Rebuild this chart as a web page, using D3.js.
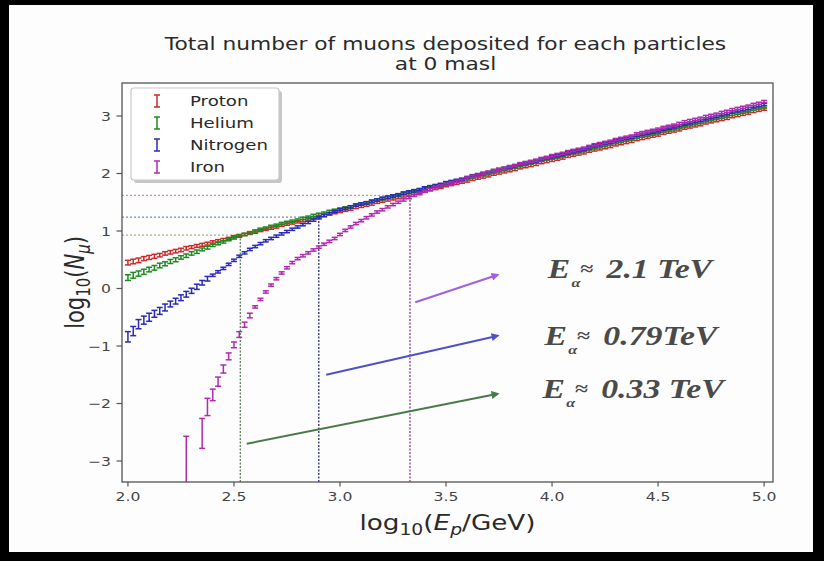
<!DOCTYPE html>
<html>
<head>
<meta charset="utf-8">
<script src="https://cdn.jsdelivr.net/npm/d3@7"></script>
<style>
  body { margin: 0; background: #000; }
  svg { display: block; }
</style>
</head>
<body>
<svg id="chart" width="824" height="561"></svg>
<script>
// log10(E/GeV) grid of the simulated primaries
const energies = [
  2.000,2.025,2.050,2.075,2.100,2.125,2.150,2.175,
  2.200,2.225,2.250,2.275,2.300,2.325,2.350,2.375,
  2.400,2.425,2.450,2.475,2.500,2.525,2.550,2.575,
  2.600,2.625,2.650,2.675,2.700,2.725,2.750,2.775,
  2.800,2.825,2.850,2.875,2.900,2.925,2.950,2.975,
  3.000,3.025,3.050,3.075,3.100,3.125,3.150,3.175,
  3.200,3.225,3.250,3.275,3.300,3.325,3.350,3.375,
  3.400,3.425,3.450,3.475,3.500,3.525,3.550,3.575,
  3.600,3.625,3.650,3.675,3.700,3.725,3.750,3.775,
  3.800,3.825,3.850,3.875,3.900,3.925,3.950,3.975,
  4.000,4.025,4.050,4.075,4.100,4.125,4.150,4.175,
  4.200,4.225,4.250,4.275,4.300,4.325,4.350,4.375,
  4.400,4.425,4.450,4.475,4.500,4.525,4.550,4.575,
  4.600,4.625,4.650,4.675,4.700,4.725,4.750,4.775,
  4.800,4.825,4.850,4.875,4.900,4.925,4.950,4.975,
  5.000
];

// log10(N_mu) per primary
const proton = [
  0.45,0.47,0.49,0.52,0.54,0.56,0.58,0.61,
  0.63,0.65,0.67,0.70,0.72,0.74,0.76,0.78,
  0.81,0.83,0.85,0.87,0.90,0.92,0.94,0.96,
  0.98,1.01,1.03,1.05,1.07,1.10,1.12,1.14,
  1.16,1.18,1.21,1.23,1.25,1.27,1.30,1.32,
  1.34,1.36,1.38,1.41,1.43,1.45,1.47,1.50,
  1.52,1.54,1.56,1.58,1.61,1.63,1.65,1.67,
  1.70,1.72,1.74,1.76,1.79,1.81,1.83,1.85,
  1.87,1.90,1.92,1.94,1.96,1.99,2.01,2.03,
  2.05,2.07,2.10,2.12,2.14,2.16,2.19,2.21,
  2.23,2.25,2.27,2.30,2.32,2.34,2.36,2.39,
  2.41,2.43,2.45,2.47,2.50,2.52,2.54,2.56,
  2.59,2.61,2.63,2.65,2.67,2.70,2.72,2.74,
  2.76,2.79,2.81,2.83,2.85,2.88,2.90,2.92,
  2.94,2.96,2.99,3.01,3.03,3.05,3.08,3.10,
  3.12
];
const helium = [
  0.19,0.23,0.26,0.29,0.33,0.36,0.40,0.43,
  0.47,0.50,0.54,0.57,0.61,0.64,0.68,0.71,
  0.75,0.78,0.81,0.85,0.88,0.91,0.94,0.97,
  1.00,1.03,1.05,1.08,1.10,1.13,1.15,1.17,
  1.19,1.22,1.24,1.27,1.29,1.31,1.34,1.36,
  1.38,1.40,1.42,1.45,1.47,1.49,1.51,1.54,
  1.56,1.58,1.60,1.62,1.65,1.67,1.69,1.71,
  1.74,1.76,1.78,1.80,1.83,1.85,1.87,1.89,
  1.91,1.94,1.96,1.98,2.00,2.03,2.05,2.07,
  2.09,2.11,2.14,2.16,2.18,2.20,2.23,2.25,
  2.27,2.29,2.31,2.34,2.36,2.38,2.40,2.43,
  2.45,2.47,2.49,2.51,2.54,2.56,2.58,2.60,
  2.63,2.65,2.67,2.69,2.71,2.74,2.76,2.78,
  2.80,2.83,2.85,2.87,2.89,2.92,2.94,2.96,
  2.98,3.00,3.03,3.05,3.07,3.09,3.12,3.14,
  3.16
];
const nitrogen = [
  -0.84,-0.74,-0.62,-0.55,-0.50,-0.44,-0.39,-0.33,
  -0.27,-0.22,-0.16,-0.10,-0.04,0.03,0.10,0.17,
  0.23,0.29,0.35,0.42,0.49,0.56,0.62,0.68,
  0.73,0.78,0.83,0.87,0.91,0.95,0.99,1.03,
  1.07,1.11,1.15,1.19,1.23,1.27,1.30,1.34,
  1.37,1.39,1.42,1.45,1.47,1.49,1.52,1.54,
  1.57,1.59,1.61,1.63,1.66,1.68,1.70,1.72,
  1.75,1.77,1.79,1.81,1.84,1.86,1.88,1.90,
  1.93,1.96,1.98,2.00,2.02,2.05,2.07,2.09,
  2.11,2.13,2.16,2.18,2.20,2.22,2.25,2.27,
  2.29,2.31,2.33,2.36,2.38,2.40,2.42,2.45,
  2.48,2.50,2.52,2.54,2.57,2.59,2.61,2.63,
  2.66,2.68,2.70,2.72,2.74,2.77,2.79,2.81,
  2.83,2.86,2.88,2.90,2.92,2.95,2.97,2.99,
  3.02,3.04,3.07,3.09,3.11,3.13,3.16,3.18,
  3.20
];
const iron = [
  null,null,null,null,null,null,null,null,
  null,null,null,-3.02,null,null,-2.52,-2.06,
  -1.85,-1.62,-1.40,-1.18,-0.98,-0.80,-0.63,-0.47,
  -0.32,-0.19,-0.06,0.06,0.17,0.27,0.36,0.45,
  0.52,0.57,0.62,0.67,0.72,0.77,0.82,0.87,
  0.94,1.01,1.07,1.13,1.18,1.23,1.28,1.33,
  1.37,1.42,1.46,1.50,1.54,1.58,1.62,1.65,
  1.69,1.72,1.75,1.78,1.81,1.83,1.86,1.88,
  1.92,1.95,1.97,2.00,2.02,2.05,2.07,2.09,
  2.12,2.14,2.17,2.19,2.21,2.23,2.26,2.28,
  2.31,2.33,2.35,2.38,2.40,2.42,2.44,2.47,
  2.50,2.52,2.54,2.56,2.59,2.61,2.63,2.65,
  2.69,2.71,2.73,2.75,2.77,2.80,2.82,2.84,
  2.87,2.90,2.92,2.94,2.96,2.99,3.01,3.03,
  3.06,3.08,3.11,3.13,3.15,3.17,3.20,3.22,
  3.25
];

// statistical uncertainties: low-energy points listed, the rest share the tail value
const protonErr   = [0.04,0.04,0.04,0.035,0.035,0.035,0.03,0.03,0.03,0.03,0.03,0.03,0.025,0.025,0.025,0.025];
const heliumErr   = [0.05,0.05,0.045,0.045,0.04,0.04,0.04,0.035,0.035,0.035,0.03,0.03,0.03,0.03,0.025,0.025];
const nitrogenErr = [0.09,0.08,0.08,0.07,0.07,0.06,0.06,0.06,0.05,0.05,0.05,0.05,0.045,0.045,0.04,0.04];
const ironErr     = [null,null,null,null,null,null,null,null,null,null,null,0.45,null,null,0.26,0.15,
                     0.10,0.08,0.07,0.06,0.05,0.05,0.045,0.04];
const tailErr = 0.02;

const seriesNames = ["Proton", "Helium", "Nitrogen", "Iron"];

// crossover energies where each heavier primary meets the proton curve
const crossEnergy = [2.53, 2.90, 3.33];
const crossValue  = [0.93, 1.24, 1.62];
const crossLabels = ["0.33 TeV", "0.79TeV", "2.1 TeV"];
const arrowFrom = [[2.56, -2.70], [2.935, -1.50], [3.355, -0.24]];
const arrowTo   = [[3.745, -1.83], [3.745, -0.82], [3.745, 0.24]];
const labelAt   = [[3.955, -1.90], [3.965, -0.99], [3.980, 0.19]];

const xTicks = [2.0, 2.5, 3.0, 3.5, 4.0, 4.5, 5.0];
const yTicks = [-3, -2, -1, 0, 1, 2, 3];

// ---------------------------------------------------------------
const W = 824, H = 561;
const SX = 1.25;                       // horizontal stretch of the figure's lettering
const plot = { left: 122, right: 773, top: 83, bottom: 482 };
const colors = ["#cc2a2a", "#1f8a1f", "#2a2ab5", "#b02ab0"];
const crossColorsV = ["#5f7f5f", "#2a2a70", "#8a3a8a"];
const crossColorsH = ["#b0b078", "#7a8ac8", "#de8fa0"];
const arrowColors  = ["#4a7a4a", "#5050c8", "#a060e0"];
const sans = "'DejaVu Sans', sans-serif";
const serif = "'Liberation Serif', 'Times New Roman', serif";

const svg = d3.select("#chart");

// figure canvas inside the dark surround
svg.append("rect").attr("x", 0).attr("y", 0).attr("width", W).attr("height", H).attr("fill", "#000");
svg.append("rect").attr("x", 9).attr("y", 5).attr("width", 804).attr("height", 547).attr("fill", "#fdfdfd");

const x = d3.scaleLinear().domain([1.972, 5.042]).range([plot.left, plot.right]);
const y = d3.scaleLinear().domain([-3.365, 3.574]).range([plot.bottom, plot.top]);

function stretchedText(parent, px, py, str, size, anchor, extra) {
  const t = parent.append("text")
    .attr("transform", `translate(${px},${py}) scale(${SX},1)`)
    .attr("font-family", sans)
    .attr("font-size", size)
    .attr("text-anchor", anchor || "start")
    .attr("fill", "#2a2a2a")
    .text(str);
  if (extra) extra(t);
  return t;
}

// title
stretchedText(svg, (plot.left + plot.right) / 2 - 2, 50, "Total number of muons deposited for each particles", 17.4, "middle");
stretchedText(svg, (plot.left + plot.right) / 2 - 2, 70, "at 0 masl", 17.4, "middle");

// clip region for the data
svg.append("clipPath").attr("id", "plotClip")
  .append("rect").attr("x", plot.left).attr("y", plot.top)
  .attr("width", plot.right - plot.left).attr("height", plot.bottom - plot.top);

const gRef = svg.append("g").attr("clip-path", "url(#plotClip)");
// horizontal and vertical guide lines at the crossover points
crossEnergy.forEach((e, i) => {
  gRef.append("line")
    .attr("x1", x(1.972)).attr("x2", x(e))
    .attr("y1", y(crossValue[i])).attr("y2", y(crossValue[i]))
    .attr("stroke", crossColorsH[i]).attr("stroke-width", 1.3)
    .attr("stroke-dasharray", "2,2");
  gRef.append("line")
    .attr("x1", x(e)).attr("x2", x(e))
    .attr("y1", y(-3.365)).attr("y2", y(crossValue[i]))
    .attr("stroke", crossColorsV[i]).attr("stroke-width", 1.3)
    .attr("stroke-dasharray", "2,1.5");
});

// error bars
const gData = svg.append("g").attr("clip-path", "url(#plotClip)");
const seriesValues = [proton, helium, nitrogen, iron];
const seriesErrs = [protonErr, heliumErr, nitrogenErr, ironErr];
const capW = 3;

seriesValues.forEach((vals, s) => {
  const pts = energies.map((e, i) => ({
    e, v: vals[i],
    err: (seriesErrs[s][i] != null ? seriesErrs[s][i] : tailErr)
  })).filter(d => d.v != null);
  const g = gData.append("g").attr("stroke", colors[s]).attr("stroke-width", 1.5);
  const bars = g.selectAll("g.eb").data(pts).join("g").attr("class", "eb");
  bars.append("line")
    .attr("x1", d => x(d.e)).attr("x2", d => x(d.e))
    .attr("y1", d => y(d.v - d.err)).attr("y2", d => y(d.v + d.err));
  bars.append("line")
    .attr("x1", d => x(d.e) - capW).attr("x2", d => x(d.e) + capW)
    .attr("y1", d => y(d.v - d.err)).attr("y2", d => y(d.v - d.err));
  bars.append("line")
    .attr("x1", d => x(d.e) - capW).attr("x2", d => x(d.e) + capW)
    .attr("y1", d => y(d.v + d.err)).attr("y2", d => y(d.v + d.err));
});

// arrows pointing to the crossover labels
const defs = svg.append("defs");
arrowColors.forEach((c, i) => {
  defs.append("marker").attr("id", "ah" + i)
    .attr("viewBox", "0 0 10 10").attr("refX", 8).attr("refY", 5)
    .attr("markerWidth", 4).attr("markerHeight", 4).attr("orient", "auto")
    .append("path").attr("d", "M0,0 L10,5 L0,10 z").attr("fill", c);
});
arrowFrom.forEach((a, i) => {
  svg.append("line")
    .attr("x1", x(a[0])).attr("y1", y(a[1]))
    .attr("x2", x(arrowTo[i][0])).attr("y2", y(arrowTo[i][1]))
    .attr("stroke", arrowColors[i]).attr("stroke-width", 2)
    .attr("marker-end", `url(#ah${i})`);
});

// crossover energy labels
labelAt.forEach((p, i) => {
  const g = svg.append("g")
    .attr("transform", `translate(${x(p[0])},${y(p[1])}) scale(${SX},1)`)
    .attr("fill", "#4a4a4a").attr("font-family", serif)
    .attr("font-weight", "bold").attr("font-style", "italic");
  g.append("text").attr("x", 0).attr("y", 0).attr("font-size", 27).text("E");
  g.append("text").attr("x", 19).attr("y", 9).attr("font-size", 13).text("α");
  g.append("text").attr("x", 26).attr("y", -3).attr("font-size", 19).attr("font-style", "normal").text("≈");
  g.append("text").attr("x", 47).attr("y", 0).attr("font-size", 27).text(crossLabels[i]);
});

// axes frame
svg.append("rect")
  .attr("x", plot.left).attr("y", plot.top)
  .attr("width", plot.right - plot.left).attr("height", plot.bottom - plot.top)
  .attr("fill", "none").attr("stroke", "#555").attr("stroke-width", 1.3);

// x ticks
const gx = svg.append("g");
xTicks.forEach(t => {
  gx.append("line").attr("x1", x(t)).attr("x2", x(t))
    .attr("y1", plot.bottom).attr("y2", plot.bottom + 4.5)
    .attr("stroke", "#555").attr("stroke-width", 1.2);
  stretchedText(gx, x(t), plot.bottom + 19, d3.format(".1f")(t), 12.5, "middle", s => s.attr("fill", "#444"));
});
// y ticks
const gy = svg.append("g");
yTicks.forEach(t => {
  gy.append("line").attr("x1", plot.left - 5.5).attr("x2", plot.left)
    .attr("y1", y(t)).attr("y2", y(t))
    .attr("stroke", "#555").attr("stroke-width", 1.2);
  stretchedText(gy, plot.left - 11, y(t) + 4.5, t < 0 ? "\u2212" + Math.abs(t) : String(t), 12.5, "end", s => s.attr("fill", "#444"));
});

// x axis label: log10(E_p/GeV)
stretchedText(svg, (plot.left + plot.right) / 2, 530, "", 21, "middle", t => {
  t.append("tspan").text("log");
  t.append("tspan").attr("font-size", 15).attr("dy", 5).text("10");
  t.append("tspan").attr("dy", -5).text("(");
  t.append("tspan").attr("font-style", "italic").text("E");
  t.append("tspan").attr("font-style", "italic").attr("font-size", 15).attr("dy", 5).text("p");
  t.append("tspan").attr("dy", -5).text("/GeV)");
});

// y axis label: log10(N_mu)
svg.append("text")
  .attr("transform", `translate(84,${(plot.top + plot.bottom) / 2}) scale(${SX},1) rotate(-90)`)
  .attr("font-family", sans).attr("font-size", 21).attr("text-anchor", "middle").attr("fill", "#2a2a2a")
  .call(t => {
    t.append("tspan").text("log");
    t.append("tspan").attr("font-size", 15).attr("dy", 5).text("10");
    t.append("tspan").attr("dy", -5).text("(");
    t.append("tspan").attr("font-style", "italic").text("N");
    t.append("tspan").attr("font-style", "italic").attr("font-size", 15).attr("dy", 5).text("μ");
    t.append("tspan").attr("dy", -5).text(")");
  });

// legend
const lg = svg.append("g");
lg.append("rect").attr("x", 134).attr("y", 91).attr("width", 148).attr("height", 92)
  .attr("rx", 3).attr("fill", "#b8b8b8").attr("opacity", 0.8);
lg.append("rect").attr("x", 131).attr("y", 88).attr("width", 148).attr("height", 92)
  .attr("rx", 3).attr("fill", "#fff").attr("stroke", "#c8c8c8").attr("stroke-width", 1.2);
seriesNames.forEach((name, i) => {
  const cy = 101 + i * 22;
  const g = lg.append("g").attr("stroke", colors[i]).attr("stroke-width", 1.5);
  g.append("line").attr("x1", 157).attr("x2", 157).attr("y1", cy - 6).attr("y2", cy + 6);
  g.append("line").attr("x1", 154).attr("x2", 160).attr("y1", cy - 6).attr("y2", cy - 6);
  g.append("line").attr("x1", 154).attr("x2", 160).attr("y1", cy + 6).attr("y2", cy + 6);
  stretchedText(lg, 190, cy + 5, name, 14.5, "start");
});
</script>
</body>
</html>
